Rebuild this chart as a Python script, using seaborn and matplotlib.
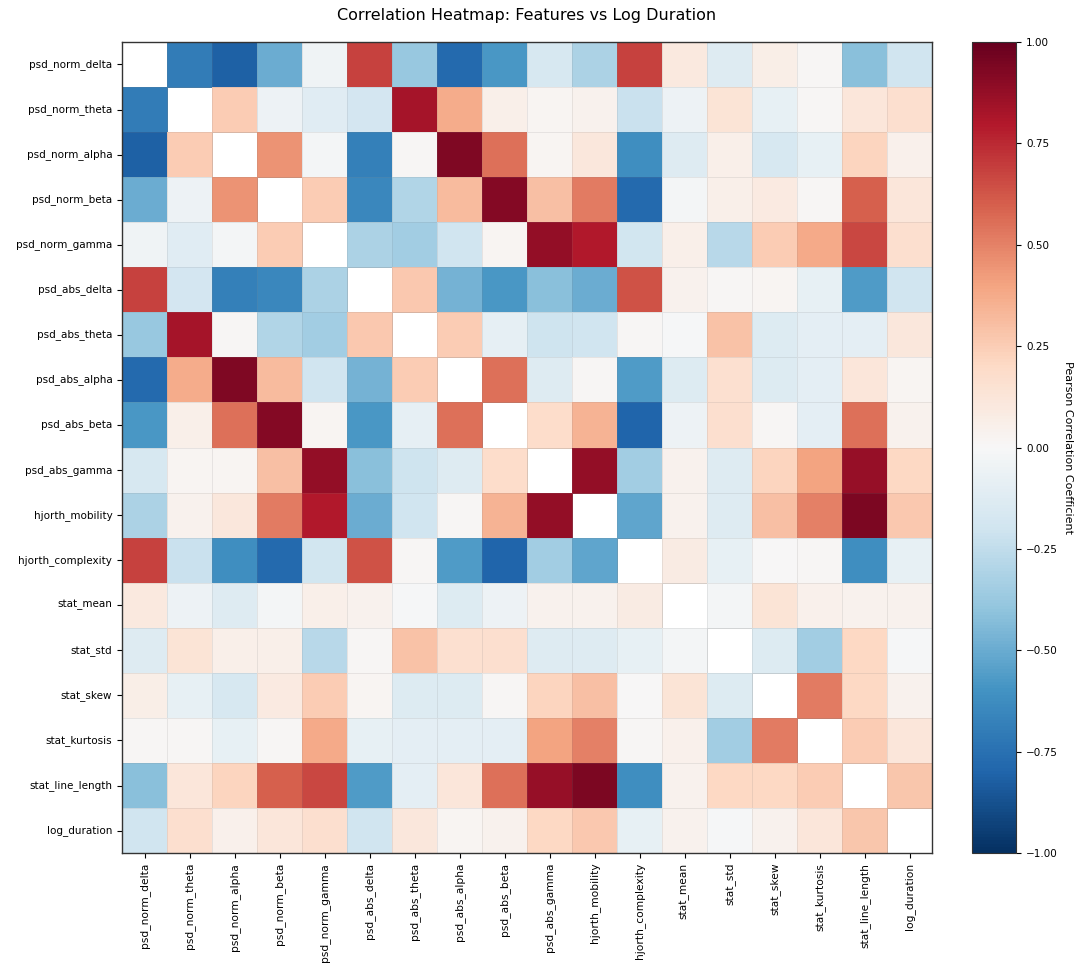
import numpy as np
import pandas as pd
import matplotlib
matplotlib.use('Agg')
from matplotlib import pyplot as plt
import seaborn as sns

# feature names (rows and columns of the matrix)
features = ['psd_norm_delta', 'psd_norm_theta', 'psd_norm_alpha', 'psd_norm_beta',
            'psd_norm_gamma', 'psd_abs_delta', 'psd_abs_theta', 'psd_abs_alpha',
            'psd_abs_beta', 'psd_abs_gamma', 'hjorth_mobility', 'hjorth_complexity',
            'stat_mean', 'stat_std', 'stat_skew', 'stat_kurtosis',
            'stat_line_length', 'log_duration']

# correlation values (diagonal left blank)
corr_rows = [
    [np.nan, -0.70, -0.82, -0.50, -0.04, 0.68, -0.38, -0.78, -0.58, -0.17, -0.32, 0.68, 0.10, -0.13, 0.07, 0.01, -0.42, -0.20],
    [-0.70, np.nan, 0.25, -0.05, -0.12, -0.18, 0.83, 0.37, 0.06, 0.02, 0.04, -0.22, -0.05, 0.14, -0.08, 0.01, 0.12, 0.17],
    [-0.82, 0.25, np.nan, 0.45, -0.02, -0.68, 0.01, 0.93, 0.55, 0.02, 0.11, -0.62, -0.13, 0.06, -0.17, -0.08, 0.22, 0.05],
    [-0.50, -0.05, 0.45, np.nan, 0.25, -0.65, -0.30, 0.32, 0.92, 0.30, 0.52, -0.78, -0.02, 0.06, 0.09, 0.01, 0.60, 0.12],
    [-0.04, -0.12, -0.02, 0.25, np.nan, -0.32, -0.35, -0.20, 0.02, 0.88, 0.80, -0.19, 0.06, -0.28, 0.25, 0.38, 0.67, 0.17],
    [0.68, -0.18, -0.68, -0.65, -0.32, np.nan, 0.27, -0.47, -0.58, -0.42, -0.50, 0.64, 0.04, 0.01, 0.02, -0.08, -0.57, -0.20],
    [-0.38, 0.83, 0.01, -0.30, -0.35, 0.27, np.nan, 0.25, -0.09, -0.21, -0.20, 0.01, -0.01, 0.29, -0.14, -0.10, -0.10, 0.11],
    [-0.78, 0.37, 0.93, 0.32, -0.20, -0.47, 0.25, np.nan, 0.55, -0.13, 0.01, -0.57, -0.14, 0.16, -0.14, -0.10, 0.12, 0.02],
    [-0.58, 0.06, 0.55, 0.92, 0.02, -0.58, -0.09, 0.55, np.nan, 0.18, 0.35, -0.80, -0.05, 0.17, 0.01, -0.10, 0.55, 0.04],
    [-0.17, 0.02, 0.02, 0.30, 0.88, -0.42, -0.21, -0.13, 0.18, np.nan, 0.88, -0.35, 0.04, -0.13, 0.22, 0.40, 0.87, 0.21],
    [-0.32, 0.04, 0.11, 0.52, 0.80, -0.50, -0.20, 0.01, 0.35, 0.88, np.nan, -0.53, 0.04, -0.13, 0.30, 0.50, 0.94, 0.27],
    [0.68, -0.22, -0.62, -0.78, -0.19, 0.64, 0.01, -0.57, -0.80, -0.35, -0.53, np.nan, 0.08, -0.08, 0.00, 0.01, -0.62, -0.08],
    [0.10, -0.05, -0.13, -0.02, 0.06, 0.04, -0.01, -0.14, -0.05, 0.04, 0.04, 0.08, np.nan, -0.02, 0.14, 0.05, 0.04, 0.04],
    [-0.13, 0.14, 0.06, 0.06, -0.28, 0.01, 0.29, 0.16, 0.17, -0.13, -0.13, -0.08, -0.02, np.nan, -0.14, -0.35, 0.21, -0.01],
    [0.07, -0.08, -0.17, 0.09, 0.25, 0.02, -0.14, -0.14, 0.01, 0.22, 0.30, 0.00, 0.14, -0.14, np.nan, 0.52, 0.21, 0.04],
    [0.01, 0.01, -0.08, 0.01, 0.38, -0.08, -0.10, -0.10, -0.10, 0.40, 0.50, 0.01, 0.05, -0.35, 0.52, np.nan, 0.25, 0.12],
    [-0.42, 0.12, 0.22, 0.60, 0.67, -0.57, -0.10, 0.12, 0.55, 0.87, 0.94, -0.62, 0.04, 0.21, 0.21, 0.25, np.nan, 0.28],
    [-0.20, 0.17, 0.05, 0.12, 0.17, -0.20, 0.11, 0.02, 0.04, 0.21, 0.27, -0.08, 0.04, -0.01, 0.04, 0.12, 0.28, np.nan],
]

corr_df = pd.DataFrame(corr_rows, index=features, columns=features)

fig = plt.figure(figsize=(10.8, 9.75), dpi=100)
ax = fig.add_axes([0.113, 0.125, 0.750, 0.832])
cax = fig.add_axes([0.900, 0.125, 0.041, 0.832])

sns.heatmap(corr_df, ax=ax, cbar_ax=cax, cmap='RdBu_r', vmin=-1, vmax=1,
            linewidths=0.5, linecolor=(0.5, 0.5, 0.5, 0.15), square=False)

# keep the frame around the matrix like the original
for side in ['top', 'right', 'bottom', 'left']:
    ax.spines[side].set_visible(True)
    ax.spines[side].set_color('#333333')
    ax.spines[side].set_linewidth(1.0)

ax.set_title('Correlation Heatmap: Features vs Log Duration', fontsize=11.5, pad=16)
ax.set_xticklabels(features, rotation=90, fontsize=7.7)
ax.set_yticklabels(features, rotation=0, fontsize=7.5)
ax.tick_params(axis='both', length=3.5, width=0.8)
ax.set_xlabel('')
ax.set_ylabel('')

cbar = ax.collections[0].colorbar
cbar.set_ticks([-1, -0.75, -0.5, -0.25, 0, 0.25, 0.5, 0.75, 1])
cbar.set_ticklabels(['\u22121.00', '\u22120.75', '\u22120.50', '\u22120.25', '0.00',
                     '0.25', '0.50', '0.75', '1.00'])
cbar.ax.tick_params(labelsize=7.5, length=3.5)
cbar.outline.set_visible(True)
cbar.outline.set_edgecolor('#333333')
cbar.outline.set_linewidth(0.8)
cbar.set_label('Pearson Correlation Coefficient', rotation=270, labelpad=11, fontsize=8)

plt.savefig('out.png', dpi=100)
